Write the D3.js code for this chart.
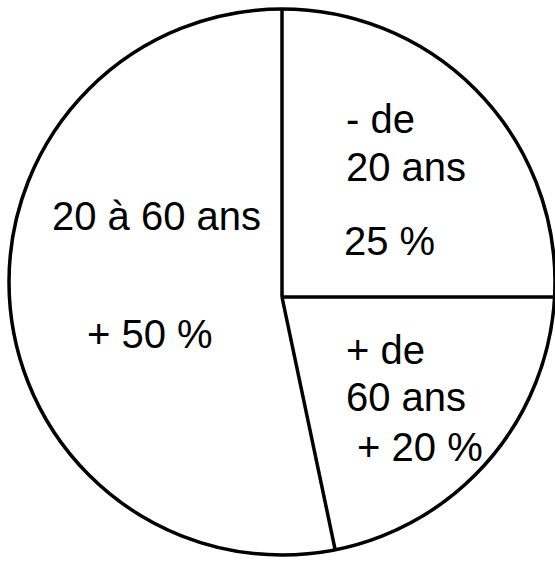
<!DOCTYPE html>
<html>
<head>
<meta charset="utf-8">
<script src="https://cdn.jsdelivr.net/npm/d3@7"></script>
<style>
  body { margin: 0; background: #fff; }
  text { font-family: "Liberation Sans", Arial, sans-serif; fill: #000; }
</style>
</head>
<body>
<div id="viz_area"></div>
<script>
// age groups, clockwise from 12 o'clock
var groups = ["- de 20 ans", "+ de 60 ans", "20 à 60 ans"];
var shares = [25, 21.7, 53.3];
var labelLines = [
    ["- de", "20 ans", "25 %"],
    ["+ de", "60 ans", " + 20 %"],
    ["20 à 60 ans", "+ 50 %"]
];

function __init__() {
    pieChart();
}

function pieChart() {
    var w = 555;
    var h = 561;

    // the hand drawn circle and the point where the slice lines meet are not the same
    var cx = 282, cy = 282, r = 273;
    var hx = 282, hy = 297;

    var svg = d3.select("#viz_area")
                .append("svg")
                .attr("width", w)
                .attr("height", h);

    var pie = d3.pie().sort(null).value(function(d) { return d; });
    var slices = pie(shares);

    // where a ray from the hub hits the circle
    function rim(a) {
        var dx = Math.sin(a), dy = -Math.cos(a);
        var ox = hx - cx, oy = hy - cy;
        var b = ox * dx + oy * dy;
        var c = ox * ox + oy * oy - r * r;
        var t = -b + Math.sqrt(b * b - c);
        return [hx + t * dx, hy + t * dy];
    }

    svg.append("circle")
       .attr("cx", cx)
       .attr("cy", cy)
       .attr("r", r)
       .style("fill", "none")
       .style("stroke", "black")
       .style("stroke-width", 3.5);

    svg.selectAll("line.edge")
       .data(slices)
       .enter()
       .append("line")
       .attr("class", "edge")
       .attr("x1", hx)
       .attr("y1", hy)
       .attr("x2", function(d) { return rim(d.startAngle)[0]; })
       .attr("y2", function(d) { return rim(d.startAngle)[1]; })
       .style("stroke", "black")
       .style("stroke-width", 3.5);

    // label blocks: first baseline and line spacing
    var labelPos = [
        { y: 133, gaps: [48, 74] },
        { y: 364, gaps: [47, 50] },
        { y: 230, gaps: [118] }
    ];
    var labelX = [
        [346, 346, 344],
        [346, 346, 346],
        [52, 87]
    ];

    var blocks = svg.selectAll("g.label")
                    .data(slices)
                    .enter()
                    .append("g")
                    .attr("class", "label");

    blocks.each(function(d, i) {
        var g = d3.select(this);
        var y = labelPos[i].y;
        labelLines[i].forEach(function(line, j) {
            if (j > 0) y += labelPos[i].gaps[j - 1];
            g.append("text")
             .attr("x", labelX[i][j])
             .attr("y", y)
             .attr("xml:space", "preserve")
             .style("white-space", "pre")
             .style("font-size", "40px")
             .text(line);
        });
    });
}

window.onload = __init__;
</script>
</body>
</html>
